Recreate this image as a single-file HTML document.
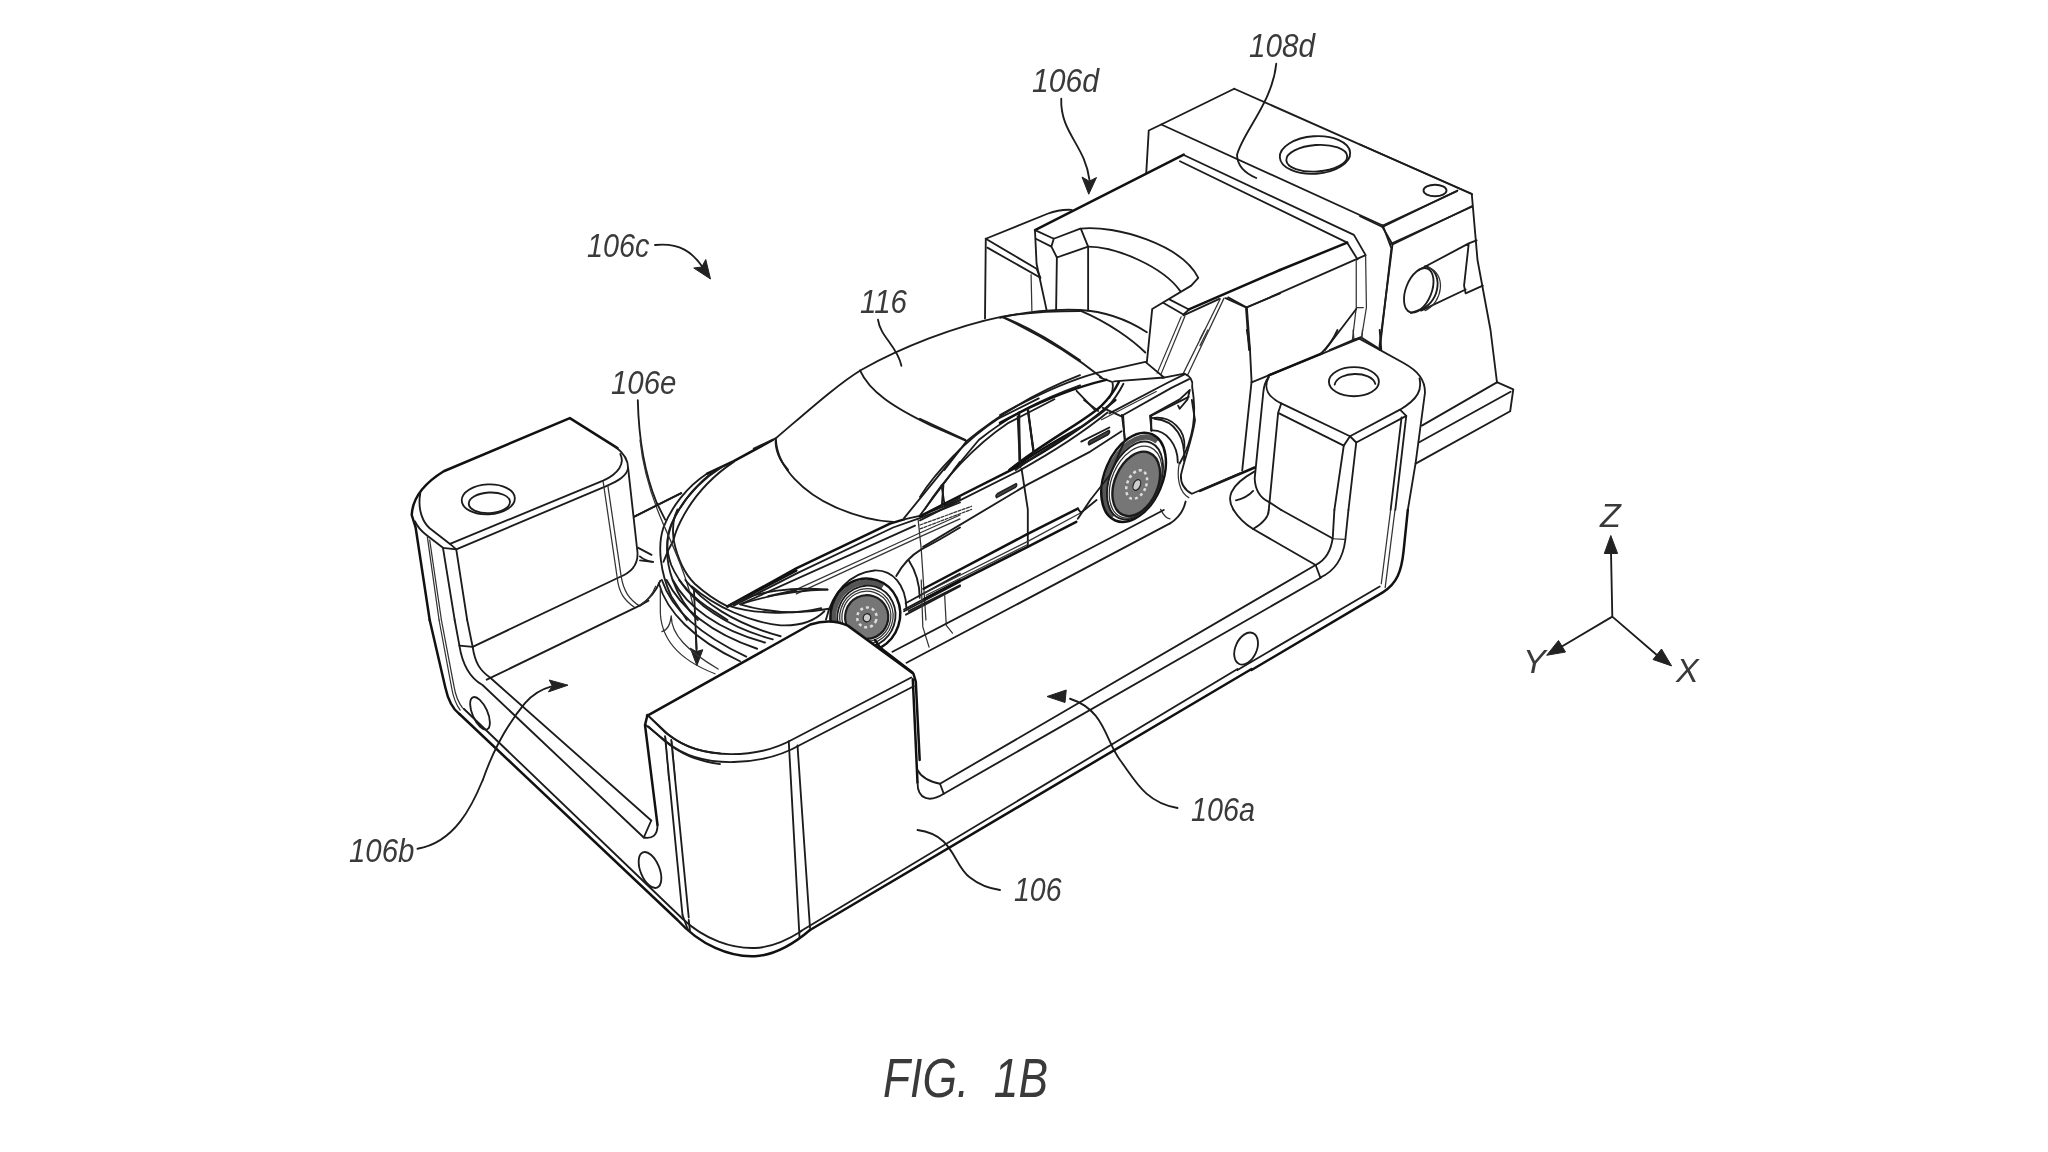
<!DOCTYPE html>
<html lang="en">
<head>
<meta charset="utf-8">
<title>FIG. 1B</title>
<style>
html,body{margin:0;padding:0;background:#fff;}
body{width:2048px;height:1152px;overflow:hidden;position:relative;font-family:"Liberation Sans",sans-serif;}
svg{position:absolute;left:0;top:0;display:block;}
svg *{vector-effect:non-scaling-stroke;}
.l{fill:none;stroke:#1c1c1c;stroke-width:1.85;stroke-linecap:round;stroke-linejoin:round;}
.t{fill:none;stroke:#333;stroke-width:1.25;stroke-linecap:round;stroke-linejoin:round;}
.k{fill:none;stroke:#111;stroke-width:2.5;stroke-linecap:round;stroke-linejoin:round;}
.a{fill:#222;stroke:#222;stroke-width:1;stroke-linejoin:round;}
text{font-family:"Liberation Sans",sans-serif;font-style:italic;fill:#3a3a3a;}
.lb{font-size:34px;}
.fig{font-size:55px;}
</style>
</head>
<body>
<svg width="2048" height="1152" viewBox="0 0 2048 1152" style="filter:grayscale(1)">
<!--TILE_A-->
<g transform="translate(960,20) scale(0.25)">
<path class="l" d="M1097,275 L2048,697"/>
<path class="l" d="M1097,275 L805,418 L755,442 L745,612"/>
<path class="l" d="M805,418 L1691,822"/>
<ellipse class="l" cx="1420" cy="540" rx="141" ry="75" transform="rotate(-4 1420 540)"/>
<ellipse class="l" cx="1427" cy="553" rx="122" ry="53" transform="rotate(-4 1427 553)"/>
</g>
<!--TILE_B-->
<g transform="translate(1360,100) scale(0.25)">
<path class="l" d="M0,178 L447,375 L470,640 L522,920 L548,1130"/>
<path class="l" d="M390,362 L90,508 L130,578 L447,425"/>
<path class="l" d="M0,465 L90,508"/>
<path class="l" d="M130,578 L78,985"/>
<ellipse class="l" cx="300" cy="362" rx="46" ry="23"/>
</g>
<!--TILE_C-->
<g transform="translate(960,170) scale(0.15625)">
<path class="l" d="M160,950 L165,440 L560,280 Q640,250 715,255"/>
<path class="l" d="M165,440 L490,632 L515,690 L175,497"/>
<path class="t" d="M455,670 L460,900"/>
<path class="k" d="M480,385 L1432,-99"/>
<path class="l" d="M480,385 L600,440 L770,375 M485,440 L585,490 L600,440 M585,490 L620,560 L820,490 L775,380"/>
<path class="l" d="M480,390 L490,600 L555,900 M620,560 L615,900 M820,490 L820,900"/>
<path class="l" d="M770,375 C1000,350 1420,480 1525,690 L1480,740 L1230,890 L1215,1040 L1196,1228"/>
<path class="l" d="M820,490 C1000,490 1300,620 1410,775"/>
<path class="l" d="M1300,850 L1430,925 L1470,890 M1340,828 L1465,893"/>
<path class="k" d="M1465,892 L2048,640"/>
<path class="l" d="M1430,930 L1660,825 M1700,820 L1830,880 L2048,790 M1830,880 L1850,1152"/>
<path class="t" d="M1690,820 L1456,1313 M1665,825 L1426,1308 M1440,935 L1286,1308 M1415,940 L1262,1300"/>
</g>
<!--TILE_D-->
<g transform="translate(1200,170) scale(0.15625)">
<path class="l" d="M1170,355 L1215,475 L1225,500 L1150,1152"/>
<path class="l" d="M1170,355 L1645,135 M1215,475 L1740,235"/>
<path class="l" d="M-104,-96 L985,415 L1060,545 L300,880 L180,815"/>
<path class="l" d="M-128,-56 L942,465 L1008,572"/>
<path class="k" d="M942,465 L512,640"/>
<path class="l" d="M300,880 L320,1152"/>
<path class="t" d="M1000,575 L1000,880 L975,1090 M1060,550 L1065,880 L1035,1065 M1000,880 L1045,880"/>
<path class="l" d="M1000,890 L800,1152 M975,1090 L1030,1070 L1160,1152 M975,1090 L830,1152"/>
<path class="l" d="M1400,640 L1720,470 L1770,450 M1720,470 L1690,740 L1700,790 L1810,740 M1415,900 L1700,765"/>
<ellipse class="l" cx="1400" cy="770" rx="82" ry="150" transform="rotate(22 1400 770)"/>
<path class="l" d="M1440,615 C1560,640 1540,840 1420,890 L1350,915"/>
<path class="t" d="M1460,625 C1580,660 1555,850 1440,900"/>
</g>
<!--TILE_E-->
<g transform="translate(1200,330) scale(0.15625)">
<path class="l" d="M300,0 L320,128 L330,330 L270,900"/>
<path class="l" d="M330,335 L1020,55 L1300,210 C1400,265 1440,320 1440,400 L1380,850 L1330,1152"/>
<path class="k" d="M440,290 L780,150"/>
<path class="l" d="M440,300 C400,380 440,430 520,470 L960,680 L1280,510 C1400,440 1420,380 1405,310"/>
<path class="l" d="M440,300 Q410,340 405,400 L350,950 Q355,1060 440,1100 L520,1152"/>
<path class="l" d="M520,470 L500,530 L440,1152 M500,530 L920,740 L960,680 L1000,720 L1320,550 L1280,510"/>
<path class="l" d="M920,740 L860,1152 M1000,720 L950,1152 M1290,560 L1220,1152 M1320,550 L1250,1152"/>
<ellipse class="l" cx="985" cy="331" rx="160" ry="93"/>
<path class="l" d="M862,350 C880,260 1100,260 1122,345"/>
<path class="l" d="M1900,333 L2005,380 L1985,520 L1380,855"/>
<path class="l" d="M1900,335 L1420,612 M1988,395 L1400,720"/>
<path class="t" d="M980,0 L985,60 M1040,0 L1035,62"/>
<path class="l" d="M985,62 L1020,55 M1150,0 L1160,125"/>
<path class="l" d="M880,0 Q840,90 770,155"/>
<path class="k" d="M0,1030 L350,880"/>
<path class="l" d="M350,905 C180,1000 170,1080 215,1152 M230,1090 Q300,1075 340,1030"/>
<path class="t" d="M0,100 L50,0 M0,60 L30,0"/>
</g>
<!--TILE_F-->
<g transform="translate(1200,490) scale(0.15625)">
<path class="k" d="M1330,128 L1303,390 C1290,520 1260,600 1170,655 L330,1152"/>
<path class="t" d="M1220,128 L1160,600 M1248,128 L1185,625"/>
<path class="l" d="M1150,618 L240,1152"/>
<path class="l" d="M860,128 L850,300 C840,390 800,450 740,480"/>
<path class="l" d="M950,128 L930,320 C915,440 860,520 770,560"/>
<path class="t" d="M850,312 L925,316"/>
<path class="l" d="M740,480 L770,560"/>
<path class="l" d="M520,128 L850,310 M340,250 L740,480"/>
<path class="l" d="M215,128 Q260,200 340,250 M440,128 Q440,190 340,250"/>
<ellipse class="l" cx="295" cy="1015" rx="68" ry="108" transform="rotate(24 295 1015)"/>
</g>
<!--TILE_G-->
<g transform="translate(880,640) scale(0.25)">
<path class="k" d="M0,30 L130,130 L150,570"/>
<path class="l" d="M150,570 C150,640 200,650 255,615 M150,520 Q170,560 240,575 L255,615"/>
<path class="l" d="M760,235 C900,280 900,400 960,480 S1060,650 1190,672"/>
<path class="a" d="M668,226 L745,200 L740,250 Z"/>
<path class="l" d="M150,760 C300,780 290,900 360,950 Q410,990 480,1000"/>
</g>
<text class="lb" x="1191" y="821" textLength="64" lengthAdjust="spacingAndGlyphs">106a</text>
<text class="lb" x="1014" y="901" textLength="47.5" lengthAdjust="spacingAndGlyphs">106</text>
<!--TILE_J-->
<g transform="translate(560,780) scale(0.25)">
<path class="k" d="M-402,-264 L470,560 C560,660 680,710 780,705 C860,700 930,660 1000,600"/>
<path class="l" d="M-385,-285 L490,555 C580,640 690,675 780,672 C850,670 910,640 965,605"/>
<path class="l" d="M490,540 L512,600 M515,560 L520,605"/>
</g>
<!--TILE_L-->
<g transform="translate(400,440) scale(0.15625)">
<path class="k" d="M190,1152 L100,560 L75,480 C80,380 150,280 280,200 L1087,-140 L1392,52"/>
<path class="l" d="M1380,45 C1440,90 1460,130 1460,180 L1520,720 C1525,800 1480,850 1400,880 L465,1324"/>
<path class="l" d="M130,340 C110,450 150,530 190,565 L320,665 L1300,260 C1400,215 1440,150 1410,90"/>
<path class="l" d="M95,520 Q120,570 165,605 L275,690 L360,700 L1320,295 C1400,260 1450,230 1460,180"/>
<path class="l" d="M320,665 L360,700 L430,1152 M275,690 L350,1152"/>
<path class="t" d="M175,620 L250,1152 M190,640 L265,1152"/>
<path class="t" d="M1300,265 L1390,880 C1400,980 1440,1030 1500,1070 M1330,290 L1415,870 C1430,970 1470,1020 1530,1060"/>
<ellipse class="l" cx="565" cy="380" rx="170" ry="96" transform="rotate(-3 565 380)"/>
<ellipse class="l" cx="572" cy="402" rx="132" ry="66" transform="rotate(-3 572 402)"/>
<path class="l" d="M1500,490 L1800,340"/>
<path class="l" d="M1525,690 L1610,735 M1535,745 Q1570,775 1620,780"/>
</g>
<!--TILE_M-->
<g transform="translate(480,340) scale(0.15625)">
<path class="l" d="M1010,385 C1015,600 1040,820 1130,1040 L1185,1150"/>
</g>
<text class="lb" x="611" y="394" textLength="65.5" lengthAdjust="spacingAndGlyphs">106e</text>
<!--TILE_N-->
<g transform="translate(400,600) scale(0.15625)">
<path class="k" d="M190,128 L290,560 C310,650 340,700 380,730"/>
<path class="t" d="M250,128 L330,560 Q345,650 385,705 M265,128 L345,550 Q360,640 400,690"/>
<path class="l" d="M350,128 L380,290 C400,420 450,500 528,544 L1560,1520"/>
<path class="l" d="M430,128 L465,300 C480,400 510,450 576,496 L1608,1411"/>
<path class="l" d="M380,292 L465,300"/>
<path class="l" d="M555,510 L1530,38 L1590,5"/>
<ellipse class="l" cx="512" cy="725" rx="48" ry="112" transform="rotate(-24 512 725)"/>
<path class="l" d="M530,1152 C600,950 700,780 800,660 Q870,580 970,553"/>
<path class="a" d="M1075,545 L955,512 L975,550 L950,588 Z"/>
<path class="l" d="M1590,742 L1700,850 C1800,930 1900,970 2048,982"/>
<path class="l" d="M1590,810 L1690,900 C1800,990 1900,1030 2048,1050"/>
<path class="t" d="M1700,880 L1720,1152 M1740,905 L1762,1152"/>
<path class="l" d="M1893,200 L1898,330"/>
<path class="a" d="M1900,420 L1858,308 L1897,330 L1938,318 Z"/>
</g>
<!--TILE_P car front-->
<g transform="translate(640,440) scale(0.15625)">
<path class="k" d="M850,0 L600,135 L430,215"/>
<path class="l" d="M430,215 C300,300 200,430 150,560 C110,680 130,850 200,1000 L300,1152"/>
<path class="l" d="M520,175 C400,250 290,360 220,500 C160,620 160,760 210,900 C240,980 300,1080 370,1152"/>
<path class="l" d="M600,140 C450,240 330,380 260,520 Q225,590 215,640 C240,760 290,860 350,920 Q450,1010 560,1065"/>
<path class="l" d="M470,200 C360,290 260,400 200,540 C160,640 170,720 200,800 C250,920 350,1020 480,1100 L560,1152"/>
<path class="l" d="M215,640 Q180,700 150,780 M240,445 Q200,520 215,640"/>
<path class="k" d="M560,1065 L1000,822 L1600,535 L1690,508"/>
<path class="l" d="M1690,508 L1790,485 L2048,385"/>
<path class="l" d="M600,1060 L1010,850 L1620,560 L1790,500 L2048,400"/>
<path class="l" d="M870,0 C880,180 1050,340 1250,430 C1400,495 1520,520 1620,525"/>
<path class="l" d="M1690,500 L2048,60 M1790,485 L2048,140"/>
<path class="l" d="M1930,290 L1950,420 L2048,370"/>
<path class="l" d="M650,1048 L1760,548"/>
<path class="t" d="M960,975 L1780,600 L2048,480 M1000,985 L1780,625 L2048,505"/>
<path class="l" d="M640,1052 C800,1000 1000,960 1200,957 M640,1052 C800,1100 1000,1120 1210,1080"/>
<path class="l" d="M820,1000 L1000,960"/>
<path class="l" d="M1190,1150 C1230,980 1340,850 1500,835 C1620,830 1700,930 1705,1075"/>
<path class="t" d="M1780,510 L1800,700 L1820,1000 L1830,1152"/>
<path class="l" d="M1640,870 Q1700,760 1800,700 Q1900,650 2048,560 M1720,770 Q1790,880 1790,1010"/>
<path class="l" d="M1690,1085 L2048,895 M1700,1045 L2048,855 M1720,1095 L2048,930"/>
<path class="t" d="M0,0 C20,200 80,380 150,540 C230,720 300,880 340,1060"/>
<path class="l" d="M-36,490 L264,340"/>
<path class="l" d="M0,1060 Q90,1000 130,900 M0,770 L80,780"/>
</g>
<!--TILE_Q front bumper + wheel + block top-->
<g transform="translate(640,580) scale(0.15625)">
<g id="fwheel" transform="rotate(18 1449 233)">
<path d="M1490,20 A204,217 0 0 0 1400,446" fill="none" stroke="#555" stroke-width="34" style="vector-effect:none"/>
<ellipse class="k" cx="1440" cy="228" rx="222" ry="236"/>
<ellipse class="l" cx="1449" cy="233" rx="185" ry="198"/>
<ellipse class="t" cx="1449" cy="233" rx="170" ry="178"/>
<ellipse class="t" cx="1449" cy="233" rx="156" ry="162"/>
<ellipse cx="1452" cy="236" rx="138" ry="140" fill="#767676" stroke="#1c1c1c" stroke-width="2.2"/>
<ellipse cx="1454" cy="238" rx="62" ry="64" fill="none" stroke="#ddd" stroke-width="2.5" stroke-dasharray="3 3"/>
<ellipse cx="1455" cy="240" rx="24" ry="26" fill="#ccc" stroke="#222" stroke-width="1.2"/>
</g>
<path class="l" d="M140,0 C200,180 380,350 680,490"/>
<path class="l" d="M120,20 C170,200 340,380 640,520"/>
<path class="l" d="M170,0 C260,180 450,340 750,440"/>
<path class="l" d="M210,0 C300,170 500,320 800,400"/>
<path class="l" d="M290,0 C400,140 600,280 900,360"/>
<path class="l" d="M330,40 C480,170 700,270 900,290 C1020,295 1120,260 1180,200"/>
<path class="l" d="M250,0 C350,150 550,300 850,380"/>
<path class="k" d="M560,170 L1000,-60"/>
<path class="l" d="M570,165 C750,60 1000,45 1200,62 M570,165 C700,210 950,230 1160,180"/>
<path class="t" d="M130,180 C125,350 220,500 480,600 M200,230 C200,350 300,450 500,570 M0,160 Q70,120 100,40 M130,180 L130,60 M200,230 Q190,320 140,330"/>
<path class="l" d="M345,60 L362,440"/>
<path d="M45,870 L1090,285 C1180,255 1260,260 1330,292 L1750,600 L1760,640 L1745,625 L990,1020 C800,1110 500,1140 300,1040 L180,960 Z" fill="#fff" stroke="none"/>
<path class="k" d="M45,870 L1090,285 C1180,255 1260,260 1330,292 L1750,600 L1765,650 L1790,1152"/>
<path class="l" d="M1690,200 L2048,10 M1702,222 L2048,40"/>
<path class="t" d="M1800,0 L1810,300 L1850,430 M1950,100 L1960,290 L2000,340"/>
</g>
<!--TILE_R roof-->
<g transform="translate(760,290) scale(0.15625)">
<path class="l" d="M-40,1015 L100,950 C300,780 500,600 650,510 C900,370 1250,230 1550,170 C1700,145 1900,135 2048,135"/>
<path class="l" d="M640,515 C700,650 850,750 1100,870 L1320,965"/>
<path class="l" d="M1560,175 C1750,250 1900,350 2048,450"/>
<path class="l" d="M1180,1152 L1320,970 C1500,820 1750,660 2048,545"/>
<path class="l" d="M1240,1152 L1400,960 C1600,800 1800,700 2048,610"/>
<path class="k" d="M1600,1152 C1750,1050 1900,960 2048,880"/>
<path class="l" d="M1660,780 L1660,1090 M1712,760 L1752,1050"/>
<path class="l" d="M100,950 Q95,1060 180,1152"/>
<path class="l" d="M755,190 C770,300 880,360 905,485"/>
</g>
<text class="lb" x="860" y="313" textLength="47" lengthAdjust="spacingAndGlyphs">116</text>
<!--TILE_S doors + rear wheel-->
<g transform="translate(920,400) scale(0.15625)">
<g transform="rotate(23 1384 537)">
<path d="M1400,235 A173,281 0 0 0 1330,788" fill="none" stroke="#555" stroke-width="34" style="vector-effect:none"/>
<ellipse class="k" cx="1352" cy="505" rx="185" ry="300"/>
<ellipse class="l" cx="1368" cy="520" rx="160" ry="262"/>
<ellipse class="t" cx="1376" cy="528" rx="152" ry="242"/>
<ellipse cx="1384" cy="537" rx="138" ry="216" fill="#767676" stroke="#1c1c1c" stroke-width="2.4"/>
<ellipse cx="1388" cy="540" rx="60" ry="96" fill="none" stroke="#ddd" stroke-width="2.5" stroke-dasharray="3 3"/>
<ellipse cx="1390" cy="542" rx="22" ry="36" fill="#ccc" stroke="#222" stroke-width="1.2"/>
</g>
<path class="l" d="M0,120 L290,255"/>
<path class="l" d="M0,620 C100,460 300,250 500,120 L760,-10"/>
<path class="l" d="M30,700 C150,510 350,290 560,150 L860,-5"/>
<path class="k" d="M0,745 L140,672 L620,430 C800,330 1000,210 1180,60 L1250,0"/>
<path class="l" d="M0,770 L150,695 L630,455 C810,355 1010,235 1200,80"/>
<path class="l" d="M140,670 L150,545"/>
<path class="l" d="M625,105 L640,430 M690,60 L730,340"/>
<path class="l" d="M650,440 L690,700 L690,940"/>
<path d="M490,625 L610,560 Q625,545 615,535 L495,600 Q480,612 490,625Z" fill="#444" stroke="#222" stroke-width="1.5"/>
<path d="M1085,285 L1205,220 Q1220,205 1210,195 L1090,260 Q1075,272 1085,285Z" fill="#444" stroke="#222" stroke-width="1.5"/>
<path class="t" stroke-dasharray="3 1.5" d="M0,800 L330,680 M0,825 L330,700"/>
<path class="l" d="M20,940 L690,540 L1090,330 L1290,200"/>
<path class="k" d="M23,1208 L680,862 L1010,695"/>
<path class="k" d="M28,1273 L683,943 L1000,780"/>
<path class="t" d="M23,1238 L690,905 L1030,722 M40,1250 L690,925"/>
<path class="l" d="M1030,722 L1010,695 M1030,722 L1130,640"/>
<path class="l" d="M1600,790 Q1680,740 1700,650"/>
<path class="l" d="M1300,100 L1310,260 L1215,480 L1090,640 L1010,760"/>
<path class="l" d="M1480,195 C1580,190 1650,290 1650,400"/>
<path class="l" d="M1480,100 L1480,195 M1480,100 L1720,-20"/>
<path class="l" d="M1500,120 C1640,130 1700,250 1690,390"/>
<path class="l" d="M1740,0 L1760,130 C1740,260 1700,350 1670,480 Q1665,560 1740,600 L2048,470"/>
<path class="t" d="M1660,400 C1640,500 1660,590 1720,625 M1540,700 Q1570,760 1600,760"/>
<path class="l" d="M1170,50 L1300,110 M1050,0 L1140,70"/>
</g>
<!--TILE_T car rear-->
<g transform="translate(1000,290) scale(0.15625)">
<path class="l" d="M0,178 C150,140 350,120 512,128 C650,135 800,180 940,270"/>
<path class="l" d="M20,175 C200,260 450,400 650,560"/>
<path class="l" d="M510,130 C700,210 850,320 930,400"/>
<path class="l" d="M620,530 L930,460 L1050,560 L730,585 M640,560 L720,590 Q730,640 700,690"/>
<path class="l" d="M0,800 C200,690 400,590 620,530"/>
<path class="k" d="M0,850 C200,740 450,630 680,575"/>
<path class="k" d="M60,1152 C300,960 560,830 650,740 Q720,670 760,590"/>
<path class="l" d="M100,1152 C330,980 590,850 680,760 Q750,680 790,600"/>
<path class="l" d="M490,645 L610,770"/>
<path class="l" d="M120,790 L130,1100 M180,760 L215,1050"/>
<path class="l" d="M1040,562 L1180,535 Q1240,560 1230,620 C1260,800 1240,950 1150,1110"/>
<path class="l" d="M700,790 L1060,600 L1180,540 M780,805 L1100,625 L1210,570"/>
<path class="t" d="M650,830 L1000,650"/>
<path class="l" d="M960,805 L1150,700 L1215,640 L1200,700 L1150,760 L1140,740 M960,805 L970,900"/>
<path class="l" d="M780,800 L800,960"/>
<path class="l" d="M970,820 C1100,800 1190,900 1180,1010"/>
<path d="M570,990 L690,925 Q705,910 695,900 L575,965 Q560,977 570,990Z" fill="#444" stroke="#222" stroke-width="1.5"/>
<path class="l" d="M520,970 L700,880"/>
</g>
<!--GLOBAL-->
<g>
<path class="l" d="M1315.6,565 L940,783.75 M1321.25,577.5 L943.75,793.75"/>
<path class="l" d="M892.5,651.7 L1163.75,510 M906.6,662.7 L1170,523.4"/>
<path class="k" d="M1251.6,669 L810,930"/>
<path class="l" d="M1237.5,669 L801,931"/>
</g>
<!--TILE_I-->
<g transform="translate(620,640) scale(0.25)">
<path class="k" d="M1020,0 L1040,30"/>
<path class="l" d="M110,300 L190,375 C330,490 560,470 690,398 L1165,150"/>
<path class="l" d="M103,340 L190,410 C330,525 580,500 720,420 L1175,185"/>
<path class="k" d="M110,300 L100,340 L150,740"/>
<path class="l" d="M180,385 L250,1100 M205,400 L275,1110"/>
<path class="l" d="M675,405 L718,1188 M710,422 L760,1152"/>
<path class="l" d="M95,790 L125,722 M95,790 Q150,800 150,740"/>
<ellipse class="l" cx="120" cy="920" rx="38" ry="76" transform="rotate(-22 120 920)"/>
</g>
<!--END_TILES-->
<!--LABELS-->
<g transform="translate(960,20) scale(0.25)">
<path class="l" d="M405,315 C400,450 500,500 518,640"/>
<path class="a" d="M515,697 L488,628 L517,645 L546,630 Z"/>
<path class="l" d="M1265,175 C1250,330 1130,450 1108,540 Q1110,600 1185,632"/>
</g>
<g transform="translate(330,200) scale(0.25)">
<path class="l" d="M1300,180 C1400,170 1450,210 1490,268"/>
<path class="a" d="M1522,316 L1455,272 L1487,268 L1503,238 Z"/>
</g>
<g transform="translate(380,580) scale(0.25)">
<path class="l" d="M150,1075 C300,1050 370,900 411,800"/>
</g>
<text class="lb" x="587" y="257" textLength="62.5" lengthAdjust="spacingAndGlyphs">106c</text>
<text class="lb" x="349" y="862" textLength="65.5" lengthAdjust="spacingAndGlyphs">106b</text>
<g>
<path class="l" d="M1612.3,616.6 L1611,552 M1612.3,616.6 L1561,647 M1612.3,616.6 L1658,656"/>
<path class="a" d="M1610.8,535.5 L1604.3,553.5 L1617.6,553.5 Z"/>
<path class="a" d="M1546.7,655.3 L1558.5,640.5 L1565.5,652 Z"/>
<path class="a" d="M1671.6,665.9 L1653,659.5 L1661.5,649 Z"/>
</g>
<text class="lb" x="1600" y="526.5">Z</text>
<text class="lb" x="1523" y="672.5">Y</text>
<text class="lb" x="1676" y="682">X</text>
<text class="lb" x="1032" y="92" textLength="67" lengthAdjust="spacingAndGlyphs">106d</text>
<text class="lb" x="1249" y="57" textLength="66" lengthAdjust="spacingAndGlyphs">108d</text>
<text class="fig" x="883" y="1097" textLength="165" lengthAdjust="spacingAndGlyphs" xml:space="preserve">FIG.  1B</text>
</svg>
</body>
</html>
